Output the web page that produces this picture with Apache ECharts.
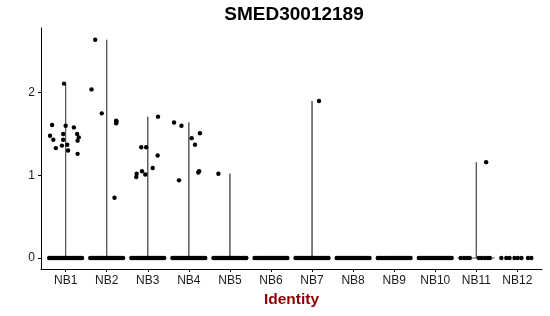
<!DOCTYPE html>
<html>
<head>
<meta charset="utf-8">
<script src="https://cdn.jsdelivr.net/npm/echarts@6/dist/echarts.min.js"></script>
<style>
html,body{margin:0;padding:0;background:#fff;}
#chart{width:550px;height:316px;}
</style>
</head>
<body>
<div id="chart"></div>
<script>
const categories = ['NB1','NB2','NB3','NB4','NB5','NB6','NB7','NB8','NB9','NB10','NB11','NB12'];
const yTicks = [0, 1, 2];

// non-zero expression values and their horizontal jitter, per identity
const nb1Expr = [2.11,1.61,1.60,1.58,1.48,1.50,1.50,1.46,1.43,1.43,1.42,1.37,1.36,1.33,1.30,1.26];
const nb1Jit  = [-0.04,-0.33,0.00,0.20,-0.38,-0.06,0.28,0.32,-0.30,-0.06,0.29,0.04,-0.09,-0.24,0.06,0.29];
const nb2Expr = [2.64,2.04,1.75,1.66,1.65,1.63,0.73];
const nb2Jit  = [-0.28,-0.37,-0.12,0.23,0.24,0.23,0.19];
const nb3Expr = [1.71,1.34,1.34,1.24,1.09,1.05,1.02,1.01,0.98];
const nb3Jit  = [0.25,-0.16,-0.04,0.24,0.12,-0.14,-0.27,-0.06,-0.28];
const nb4Expr = [1.64,1.60,1.51,1.45,1.37,1.05,1.035,0.94];
const nb4Jit  = [-0.36,-0.18,0.27,0.07,0.15,0.25,0.23,-0.24];
const nb5Expr = [1.02];
const nb5Jit  = [-0.28];
const nb7Expr = [1.90];
const nb7Jit  = [0.17];
const nb11Expr = [1.16];
const nb11Jit  = [0.24];

// jitter of the zero-valued cells
const zeroJitDense = [-0.40,-0.36,-0.32,-0.28,-0.24,-0.20,-0.16,-0.12,-0.08,-0.04,0.00,0.04,0.08,0.12,0.16,0.20,0.24,0.28,0.32,0.36,0.40];
const zeroJitNB11 = [-0.38,-0.30,-0.23,-0.16,0.06,0.13,0.21,0.28,0.33];
const zeroJitNB12 = [-0.39,-0.27,-0.19,-0.07,0.01,0.10,0.26,0.34];

const exprGroups = [
  [1, nb1Expr, nb1Jit], [2, nb2Expr, nb2Jit], [3, nb3Expr, nb3Jit], [4, nb4Expr, nb4Jit],
  [5, nb5Expr, nb5Jit], [7, nb7Expr, nb7Jit], [11, nb11Expr, nb11Jit]
];
const zeroGroups = [
  [1, zeroJitDense],[2, zeroJitDense],[3, zeroJitDense],[4, zeroJitDense],[5, zeroJitDense],
  [6, zeroJitDense],[7, zeroJitDense],[8, zeroJitDense],[9, zeroJitDense],[10, zeroJitDense],
  [11, zeroJitNB11],[12, zeroJitNB12]
];

const points = [];
exprGroups.forEach(([c, vals, jit]) => vals.forEach((v, k) => points.push([c + jit[k], v])));
zeroGroups.forEach(([c, jit]) => jit.forEach(j => points.push([c + j, 0])));

const violinSeries = exprGroups.map(([c, vals]) => {
  const mx = Math.max(...vals);
  return {
    type: 'line', silent: true, showSymbol: false, symbol: 'none', z: 1,
    lineStyle: { color: '#555', width: 1 },
    data: [[c - 0.45, 0], [c, 0], [c, mx], [c, 0], [c + 0.45, 0]]
  };
});

const FONT = 'Liberation Sans';
const chart = echarts.init(document.getElementById('chart'), null, { renderer: 'canvas' });
chart.setOption({
  animation: false,
  backgroundColor: '#fff',
  grid: { left: 41, right: 8, top: 28, bottom: 47, containLabel: false },
  graphic: [{
    type: 'text', x: 294, y: 15,
    style: { text: 'SMED30012189', textAlign: 'center', textVerticalAlign: 'middle',
             font: 'bold 19px "' + FONT + '"', fill: '#000' }
  }],
  xAxis: {
    type: 'value', min: 0.4, max: 12.6,
    name: 'Identity', nameLocation: 'middle', nameGap: 22,
    nameTextStyle: { color: '#8B0000', fontWeight: 'bold', fontSize: 15.5, fontFamily: FONT },
    axisLine: { show: true, onZero: false, lineStyle: { color: '#000', width: 1 } },
    axisTick: { show: true, length: 3, customValues: categories.map((_, i) => i + 1), lineStyle: { color: '#000' } },
    axisLabel: { customValues: categories.map((_, i) => i + 1), margin: 6, color: '#1a1a1a', fontSize: 12, fontFamily: FONT,
                 formatter: v => categories[Math.round(v) - 1] },
    splitLine: { show: false }
  },
  yAxis: {
    type: 'value', min: -0.1325, max: 2.7825,
    axisLine: { show: true, onZero: false, lineStyle: { color: '#000', width: 1 } },
    axisTick: { show: true, length: 3, customValues: yTicks, lineStyle: { color: '#000' } },
    axisLabel: { customValues: yTicks, margin: 6, color: '#1a1a1a', fontSize: 12, fontFamily: FONT,
                 formatter: v => String(v) },
    splitLine: { show: false }
  },
  series: violinSeries.concat([{
    type: 'scatter', z: 2, symbol: 'circle', symbolSize: 4.4,
    itemStyle: { color: '#000', opacity: 1 },
    data: points
  }])
});
</script>
</body>
</html>
